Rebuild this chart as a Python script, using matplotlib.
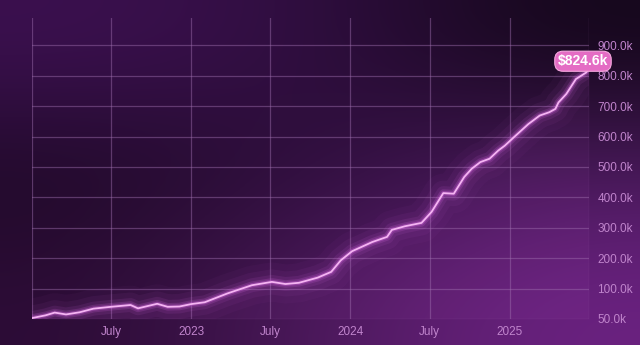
import numpy as np
import pandas as pd
import matplotlib
matplotlib.use("Agg")
import matplotlib.pyplot as plt
from matplotlib.colors import to_rgb

# data (values in thousands of dollars)
dates = [
    "2022-01-01", "2022-02-01", "2022-02-22", "2022-03-20", "2022-04-20",
    "2022-05-22", "2022-07-01", "2022-08-15", "2022-09-01", "2022-10-15",
    "2022-11-08", "2022-12-05", "2023-01-01", "2023-02-01", "2023-03-25",
    "2023-05-20", "2023-07-05", "2023-08-05", "2023-09-05", "2023-10-18",
    "2023-11-18", "2023-12-10", "2024-01-05", "2024-02-20", "2024-03-25",
    "2024-04-05", "2024-05-05", "2024-06-12", "2024-07-05", "2024-08-01",
    "2024-08-25", "2024-09-18", "2024-10-05", "2024-10-25", "2024-11-15",
    "2024-12-05", "2024-12-20", "2025-01-10", "2025-02-12", "2025-03-10",
    "2025-04-01", "2025-04-15", "2025-04-22", "2025-05-10", "2025-06-01",
    "2025-06-25", "2025-07-01",
]
values = [
    3, 12, 21, 15, 22,
    34, 40, 46, 35, 50,
    40, 41, 49, 55, 84,
    111, 122, 115, 119, 136,
    155, 193, 223, 253, 270,
    293, 305, 316, 352, 414,
    412, 467, 494, 516, 527,
    554, 570, 598, 641, 669,
    680, 691, 712, 740, 789,
    811, 824.6,
]
x_ticks = ["2022-01-01", "2022-07-01", "2023-01-01", "2023-07-01",
           "2024-01-01", "2024-07-01", "2025-01-01", "2025-07-01"]
x_labels = ["", "July", "2023", "July", "2024", "July", "2025", ""]
y_ticks = [0, 100, 200, 300, 400, 500, 600, 700, 800, 900]
y_labels = ["50.0k", "100.0k", "200.0k", "300.0k", "400.0k", "500.0k",
            "600.0k", "700.0k", "800.0k", "900.0k"]
badge_text = r"\$824.6k"

x = pd.to_datetime(dates)
y = np.array(values)

fig = plt.figure(figsize=(6.4, 3.45), dpi=100)

# background gradient
bg = fig.add_axes([0, 0, 1, 1])
anchors = [
    ["#3c1050", "#300e40", "#14071a"],
    ["#1e0a26", "#2e0e3c", "#4a1a5c"],
    ["#2c0c36", "#4e1a5e", "#6c2282"],
]
img = np.array([[to_rgb(c) for c in row] for row in anchors])
bg.imshow(img, aspect="auto", interpolation="bicubic", extent=[0, 1, 0, 1])
bg.set_xlim(0, 1)
bg.set_ylim(0, 1)
bg.axis("off")

ax = fig.add_axes([0.05, 0.0754, 0.8703, 0.8726])
ax.patch.set_alpha(0)

grid_c = "#a070b0"
ax.set_xticks(pd.to_datetime(x_ticks))
ax.set_xticklabels(x_labels)
ax.set_yticks(y_ticks)
ax.set_yticklabels(y_labels)
ax.set_xlim(pd.Timestamp("2022-01-01"), pd.Timestamp("2025-07-01"))
ax.set_ylim(0, 990)
ax.grid(True, color=grid_c, alpha=0.45, linewidth=0.9)
for s in ax.spines.values():
    s.set_visible(False)
ax.yaxis.tick_right()
ax.tick_params(length=0, colors="#c084cc", labelsize=8.5, pad=6)
ax.tick_params(axis="x", pad=5)
for lbl in ax.get_xticklabels() + ax.get_yticklabels():
    lbl.set_fontfamily(["Liberation Sans", "DejaVu Sans"])

# faint light under the line
ax.fill_between(x, y, 0, color="#c050d0", alpha=0.07, linewidth=0)

# glow layers
for lw, a in [(28, 0.035), (18, 0.06), (10, 0.1), (5.5, 0.18), (3.0, 0.32)]:
    ax.plot(x, y, color="#d868e4", linewidth=lw, alpha=a,
            solid_capstyle="round", solid_joinstyle="round")
ax.plot(x, y, color="#f5b4f3", linewidth=1.3,
        solid_capstyle="round", solid_joinstyle="round")

ax.annotate(badge_text, xy=(x[-1], y[-1]), xytext=(-6, 7),
            textcoords="offset pixels", ha="center", va="center",
            color="white", fontsize=10, fontweight="bold",
            family=["Liberation Sans", "DejaVu Sans"],
            bbox=dict(boxstyle="round,pad=0.22,rounding_size=0.6",
                      facecolor="#e46cc4", edgecolor="#f5a8de", linewidth=0.8),
            annotation_clip=False)

fig.savefig("out.png", dpi=100)
